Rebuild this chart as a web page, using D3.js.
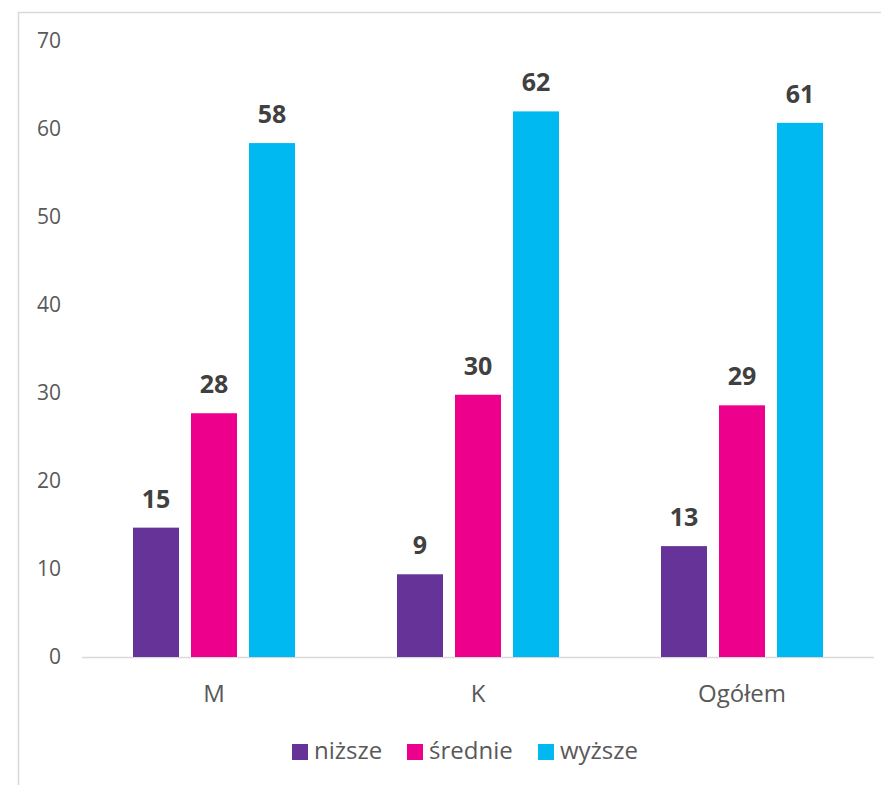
<!DOCTYPE html>
<html><head><meta charset="utf-8">
<script src="https://cdn.jsdelivr.net/npm/d3@7"></script>
<style>body{margin:0;background:#fff}svg{display:block;font-family:"Open Sans",sans-serif}</style>
</head><body>
<script>
const categories = ["M", "K", "Ogółem"];
const seriesNames = ["niższe", "średnie", "wyższe"];
const nizsze = [14.7, 9.4, 12.6];
const srednie = [27.7, 29.8, 28.6];
const wyzsze = [58.4, 62.0, 60.7];
const labelsNizsze = ["15", "9", "13"];
const labelsSrednie = ["28", "30", "29"];
const labelsWyzsze = ["58", "62", "61"];
const yTicks = [0, 10, 20, 30, 40, 50, 60, 70];
const colors = ["#663399", "#EC008C", "#00B9F1"];

const W = 881, H = 785;
const svg = d3.select("body").append("svg").attr("width", W).attr("height", H);
// outer frame
svg.append("rect").attr("x", 18.5).attr("y", 12.5).attr("width", W + 20).attr("height", H + 20)
  .attr("fill", "none").attr("stroke", "#d9d9d9").attr("stroke-width", 1.5);

const x0 = d3.scaleBand().domain(categories).range([82, 874]).paddingInner(0).paddingOuter(0);
const y = d3.scaleLinear().domain([0, 70]).range([657, 41]);
const series = [nizsze, srednie, wyzsze];
const labels = [labelsNizsze, labelsSrednie, labelsWyzsze];
const barW = 46, step = 58;

// y axis labels
const yAxis = d3.axisLeft(y).tickValues(yTicks).tickSize(0).tickPadding(0);
const yg = svg.append("g").attr("transform", "translate(61,0)").call(yAxis);
yg.select(".domain").remove();
yg.selectAll("text").attr("font-size", 21).attr("fill", "#595959").attr("font-family", "Open Sans");

// baseline
svg.append("line").attr("x1", 82).attr("x2", 874).attr("y1", y(0) + 0.5).attr("y2", y(0) + 0.5)
  .attr("stroke", "#d9d9d9").attr("stroke-width", 1.5);

// x axis labels
const xAxis = d3.axisBottom(x0).tickSize(0).tickPadding(0);
const xg = svg.append("g").attr("transform", "translate(0,702)").call(xAxis);
xg.select(".domain").remove();
xg.selectAll("text").attr("font-size", 24).attr("fill", "#595959").attr("font-family", "Open Sans").attr("dy", "0");

series.forEach((vals, s) => {
  const g = svg.append("g");
  categories.forEach((c, i) => {
    const cx = x0(c) + x0.bandwidth() / 2 + (s - 1) * step;
    g.append("rect").attr("x", cx - barW / 2).attr("y", y(vals[i])).attr("width", barW)
      .attr("height", y(0) - y(vals[i])).attr("fill", colors[s]);
    g.append("text").attr("x", cx).attr("y", y(vals[i]) - 20).attr("text-anchor", "middle")
      .attr("font-size", 25).attr("font-weight", "bold").attr("fill", "#404040").text(labels[s][i]);
  });
});

// legend
const legendX = [292, 407, 538];
const leg = svg.append("g");
seriesNames.forEach((n, s) => {
  leg.append("rect").attr("x", legendX[s]).attr("y", 744).attr("width", 16).attr("height", 16).attr("fill", colors[s]);
  leg.append("text").attr("x", legendX[s] + 22).attr("y", 759).attr("font-size", 24).attr("fill", "#595959").text(n);
});
</script>
</body></html>
